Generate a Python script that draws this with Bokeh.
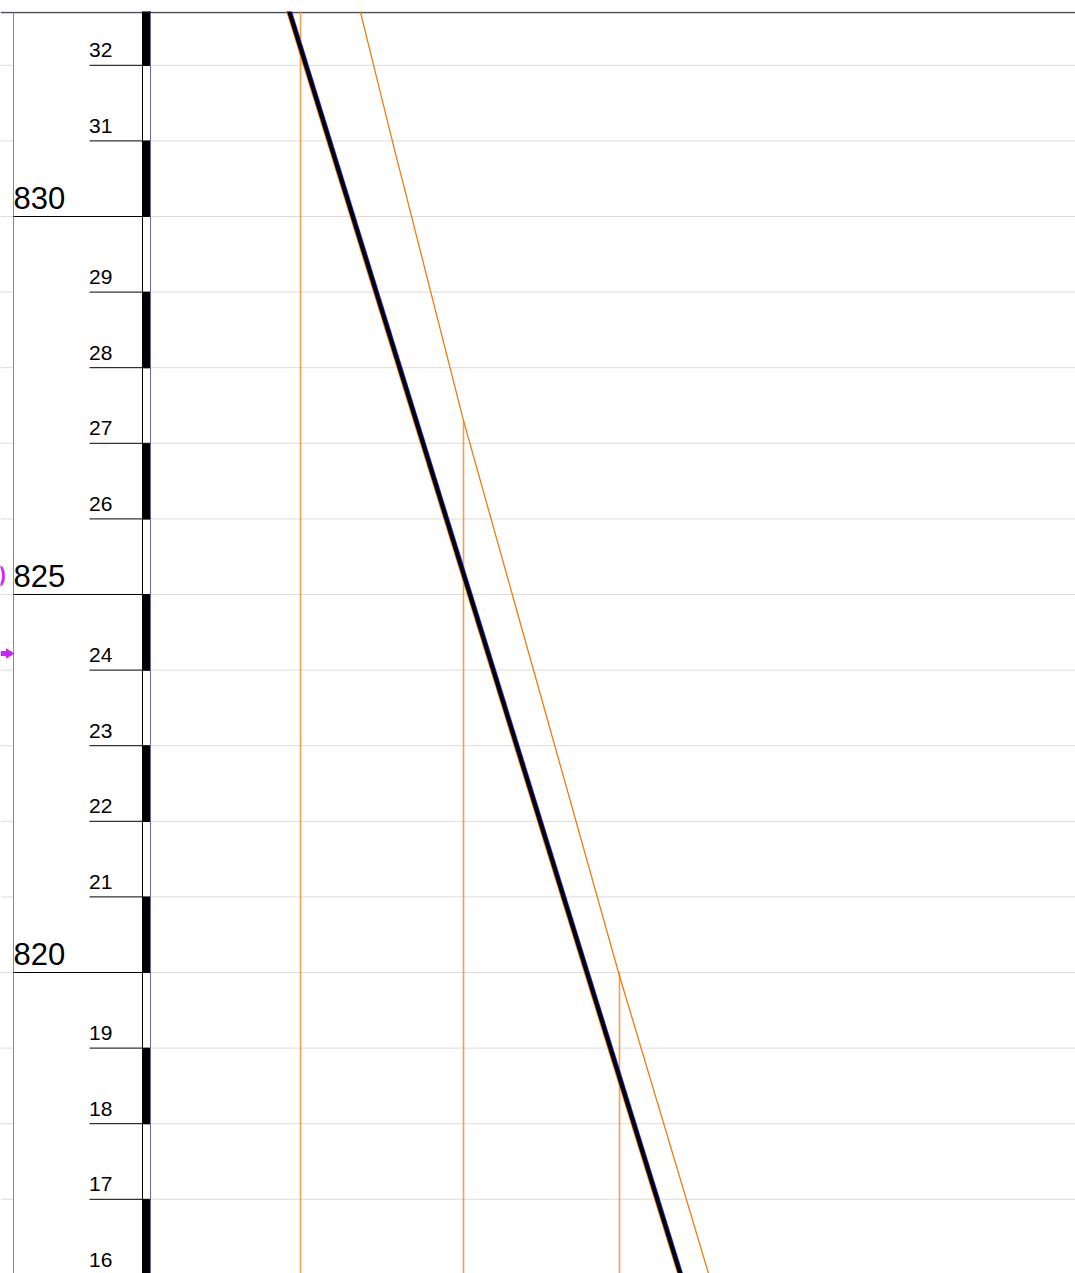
from bokeh.plotting import figure
from bokeh.models import Range1d
from bokeh.core.properties import value
from bokeh.embed import file_html
from bokeh.resources import INLINE

# ---- data ----
elev_ticks = list(range(816, 833))
major_ticks = [830, 825, 820]
minor_ticks = [e for e in elev_ticks if e % 5 != 0]
minor_labels = [str(e)[-2:] for e in minor_ticks]
major_labels = [str(e) for e in major_ticks]

# bar segments (alternating black/white per metre)
seg_bottom = list(range(815, 833))
seg_fill = ["black" if e % 2 == 0 else "white" for e in seg_bottom]

# thick design line
line_x = [27.39, 68.37]
line_y = [833.0, 815.5]

# orange ground profile
prof_x = [34.6, 35.2, 38.4, 45.5, 51.1, 61.0, 70.0, 71.2]
prof_y = [833.0, 832.70, 830.99, 827.30, 824.66, 820.00, 816.02, 815.5]

# orange verticals
vert_x = [29.2, 45.5, 61.1]
vert_top = [833.0, 827.30, 820.0]
vert_bottom = 815.0

# magenta marker
marker_elev = 824.22
marker_label_elev = 825.0
marker_label = "0"

# ---- layout constants ----
X0, X1 = -0.8, 106.7
Y_TOP = 830 + (216 - 11) / 75.6
Y_BOT = Y_TOP - 1262 / 75.6
TOP_LINE = 830 + (216 - 12) / 75.6

p = figure(width=1075, height=1273, output_backend="svg", toolbar_location=None,
           x_range=Range1d(X0, X1), y_range=Range1d(Y_BOT, Y_TOP),
           min_border_left=0, min_border_right=0, min_border_top=11, min_border_bottom=0)
p.xaxis.visible = False
p.yaxis.visible = False
p.xgrid.visible = False
p.ygrid.visible = False
p.outline_line_color = None
p.background_fill_color = "white"
p.border_fill_color = "white"

LBL_X = 0.5      # left vertical line / big-label x
TICK_X0 = 8.1    # small tick start
BAR_L, BAR_R = 13.4, 14.2

# grid lines
p.segment(x0=[X0] * len(elev_ticks), x1=[LBL_X] * len(elev_ticks), y0=elev_ticks, y1=elev_ticks,
          line_color="#dcdcdc", line_width=1)
p.segment(x0=[BAR_R] * len(elev_ticks), x1=[X1] * len(elev_ticks), y0=elev_ticks, y1=elev_ticks,
          line_color="#dcdcdc", line_width=1)

# top border
p.segment(x0=[X0], x1=[X1], y0=[TOP_LINE], y1=[TOP_LINE], line_color="#4c4c5c", line_width=1.3)

# left vertical line
p.segment(x0=[LBL_X], x1=[LBL_X], y0=[Y_BOT], y1=[TOP_LINE], line_color="#7a9090", line_width=1)

# ticks
p.segment(x0=[TICK_X0] * len(minor_ticks), x1=[BAR_L] * len(minor_ticks), y0=minor_ticks, y1=minor_ticks,
          line_color="black", line_width=1)
p.segment(x0=[LBL_X] * len(major_ticks), x1=[BAR_L] * len(major_ticks), y0=major_ticks, y1=major_ticks,
          line_color="black", line_width=1)

# bar
p.quad(left=BAR_L, right=BAR_R, bottom=seg_bottom, top=[b + 1 for b in seg_bottom],
       fill_color=seg_fill, line_color="black", line_width=1)
p.segment(x0=[BAR_R], x1=[BAR_R], y0=[Y_BOT], y1=[TOP_LINE], line_color="#6c6c9c", line_width=1)

# labels
p.text(x=[TICK_X0 - 0.05] * len(minor_ticks), y=minor_ticks, text=minor_labels,
       text_font=value("Liberation Sans"), text_font_size="21px", text_color="black",
       text_align="left", text_baseline="alphabetic", y_offset=-15)
p.text(x=[LBL_X] * len(major_ticks), y=major_ticks, text=major_labels,
       text_font=value("Liberation Sans"), text_font_size="31px", text_color="black",
       text_align="left", text_baseline="alphabetic", y_offset=-19)

# magenta marker
p.text(x=[-0.25], y=[marker_label_elev], text=[marker_label],
       text_font=value("Liberation Sans"), text_font_size="31px", text_color="#cc22ff",
       text_align="right", text_baseline="alphabetic", y_offset=-19)
p.segment(x0=[X0], x1=[0.3], y0=[marker_elev], y1=[marker_elev], line_color="#cc22ff", line_width=5)
p.patch(x=[-0.2, -0.2, 0.5], y=[marker_elev + 0.06, marker_elev - 0.06, marker_elev],
        fill_color="#cc22ff", line_color="#cc22ff")

# orange verticals
p.segment(x0=vert_x, x1=vert_x, y0=vert_top, y1=[vert_bottom] * len(vert_x),
          line_color="#f09030", line_alpha=0.85, line_width=1.6)

# orange ground profile
p.line(prof_x, prof_y, line_color="#ee7d10", line_width=1.3)

# design line (orange/blue edges + black core)
p.line([x - 0.22 for x in line_x], line_y, line_color="#ee7d10", line_width=1.5)
p.line([x + 0.22 for x in line_x], line_y, line_color="#2020ff", line_width=1.5)
p.line(line_x, line_y, line_color="black", line_width=4)

open("out.html", "w").write(file_html(p, INLINE))
